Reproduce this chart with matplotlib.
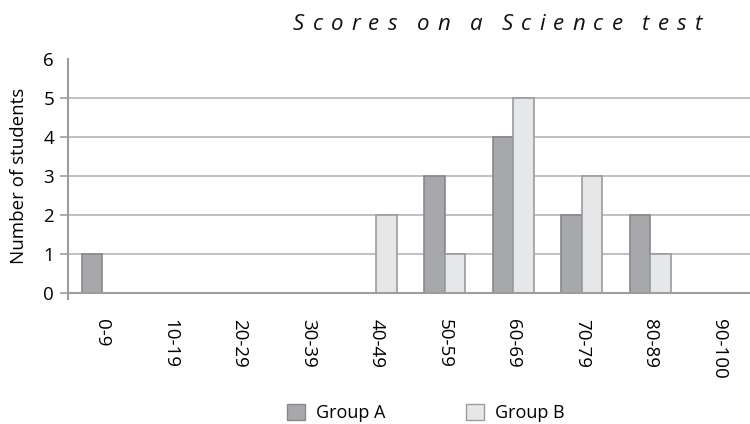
import matplotlib
matplotlib.use("Agg")
import matplotlib.pyplot as plt
import numpy as np
from matplotlib.patches import Patch
from matplotlib.lines import Line2D

categories = ["0-9", "10-19", "20-29", "30-39", "40-49", "50-59", "60-69", "70-79", "80-89", "90-100"]
group_a = [1, 0, 0, 0, 0, 3, 4, 2, 2, 0]
group_b = [0, 0, 0, 0, 2, 1, 5, 3, 1, 0]
title = "Scores on a Science test"

plt.rcParams['font.family'] = ['Open Sans', 'DejaVu Sans']

W, H = 750, 424
fig = plt.figure(figsize=(7.5, 4.24), dpi=100)
ax_left, ax_right, ax_bot, ax_top = 68, 750, 292.7, 59.4
ax = fig.add_axes([ax_left/W, 1-ax_bot/H, (ax_right-ax_left)/W, (ax_bot-ax_top)/H])

x = np.arange(len(categories))
w = 0.30
ca, cb = "#a7a8ab", "#e6e7e8"
ea, eb = "#87888b", "#9a9b9d"
for i in x:
    if group_a[i] > 0:
        ax.bar(i - w/2, group_a[i], w, color=ca, edgecolor=ea, linewidth=1.2, zorder=3)
    if group_b[i] > 0:
        ax.bar(i + w/2, group_b[i], w, color=cb, edgecolor=eb, linewidth=1.2, zorder=3)

unit = 68.5
ax.set_xlim(-0.5, -0.5 + (ax_right-ax_left)/unit)
ax.set_ylim(0, 6)
ax.set_yticks(range(0, 7))
for yv in range(1, 6):
    ax.axhline(yv, color="#b4b5b7", linewidth=1.2, zorder=1)

for s in ["top", "right"]:
    ax.spines[s].set_visible(False)
axc = "#9c9d9f"
ax.spines["left"].set_color(axc)
ax.spines["left"].set_linewidth(1.5)
ax.spines["bottom"].set_color(axc)
ax.spines["bottom"].set_linewidth(1.5)
ax.spines["left"].set_zorder(4)
ax.spines["bottom"].set_zorder(4)
# small extension of the y axis below zero
ax.add_line(Line2D([0, 0], [0, -6/(ax_bot-ax_top)], transform=ax.transAxes,
                   color=axc, linewidth=1.5, clip_on=False))

ax.tick_params(axis="y", length=6, width=1.2, color=axc, labelsize=13.5, pad=4)
ax.yaxis.get_major_ticks()[-1].tick1line.set_visible(False)
ax.tick_params(axis="x", length=0, labelsize=13.5, pad=19)
ax.set_xticks(x)
ax.set_xticklabels(categories, rotation=270, ha="center", va="top")
ax.set_ylabel("Number of students", fontsize=13.5, labelpad=11)

# letter-spaced italic title
fig.canvas.draw()
renderer = fig.canvas.get_renderer()
fs = 16
target_left, target_right, baseline = 293, 702, 30
widths = []
for ch in title:
    if ch == " ":
        widths.append(None)
        continue
    t = fig.text(0, 0, ch, fontsize=fs, style="italic")
    widths.append(t.get_window_extent(renderer).width)
    t.remove()
space_w = 3.0
n_gaps = len(title) - 1
natural = sum(wd if wd is not None else space_w for wd in widths)
track = (target_right - target_left - natural) / n_gaps
xpos = target_left
for ch, wd in zip(title, widths):
    if ch != " ":
        fig.text(xpos/W, 1-baseline/H, ch, fontsize=fs, style="italic", color="#111111",
                 ha="left", va="baseline")
        xpos += wd + track
    else:
        xpos += space_w + track

handles = [Patch(facecolor=ca, edgecolor=ea, label="Group A"),
           Patch(facecolor=cb, edgecolor=eb, label="Group B")]
fig.legend(handles=handles, loc="center", bbox_to_anchor=(426/W, 1-413/H), ncol=2,
           frameon=False, fontsize=13, handlelength=0.98, handleheight=0.98, columnspacing=4.5,
           handletextpad=0.6)

fig.savefig("out.png", dpi=100)
